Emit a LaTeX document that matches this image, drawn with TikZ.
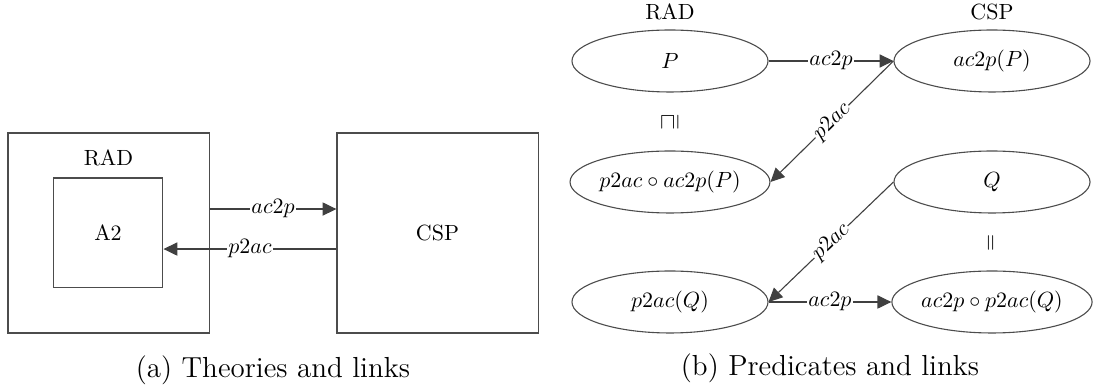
\documentclass[tikz,border=0pt]{standalone}
\usepackage{amssymb}
\usetikzlibrary{arrows.meta,shapes.geometric}
\begin{document}
\begin{tikzpicture}[x=0.455pt,y=-0.455pt,
  box/.style={draw=black!70, line width=0.5pt, inner sep=0pt},
  pred/.style={ellipse, draw=black!70, line width=0.5pt, minimum width=89.2pt, minimum height=28.2pt, inner sep=0pt},
  link/.style={draw=black!75, line width=0.5pt, -{Triangle[length=6.3pt,width=6pt]}},
  lbl/.style={fill=white, inner sep=0.6pt},
  captext/.style={font=\fontsize{13.2}{15}\selectfont}]
\useasboundingbox (0,0) rectangle (1098,392);
% (a)
\node[box, minimum width=91.5pt, minimum height=91pt] (rad) at (108.5,233) {};
\node (radl) at (108.5,158) {RAD};
\node[box, minimum width=50pt, minimum height=50pt] (a2) at (108,233) {A2};
\node[box, minimum width=91.5pt, minimum height=91pt] (csp) at (437.5,233) {CSP};
\draw[link] ([yshift=10.9pt]rad.east) -- node[lbl] {$ac2p$} ([yshift=10.9pt]csp.west);
\draw[link] ([yshift=-7.3pt]csp.west) -- node[lbl] {$p2ac$} ([yshift=-7.3pt]a2.east);
\node[captext] (capa) at (273,370) {(a) Theories and links};
% (b)
\node (radb) at (670,12) {RAD};
\node (cspb) at (992,12) {CSP};
\node[pred] (p) at (670,61) {$P$};
\node[pred] (ap) at (992,61) {$ac2p(P)$};
\node[pred] (pap) at (670,182) {$p2ac \circ ac2p(P)$};
\node[pred] (q) at (992,182) {$Q$};
\node[pred] (pq) at (670,302) {$p2ac(Q)$};
\node[pred] (apq) at (992,302) {$ac2p \circ p2ac(Q)$};
\node[rotate=90] (rel1) at (670,122) {$\sqsupseteq$};
\node[rotate=90] (rel2) at (992,243) {$=$};
\draw[link] (p.east) -- node[lbl] {$ac2p$} (ap.west);
\draw[link] (ap.west) -- node[lbl, sloped] {$p2ac$} (pap.east);
\draw[link] (q.west) -- node[lbl, sloped] {$p2ac$} (pq.east);
\draw[link] (pq.east) -- node[lbl] {$ac2p$} (apq.west);
\node[captext] (capb) at (830,368) {(b) Predicates and links};
\end{tikzpicture}
\end{document}
